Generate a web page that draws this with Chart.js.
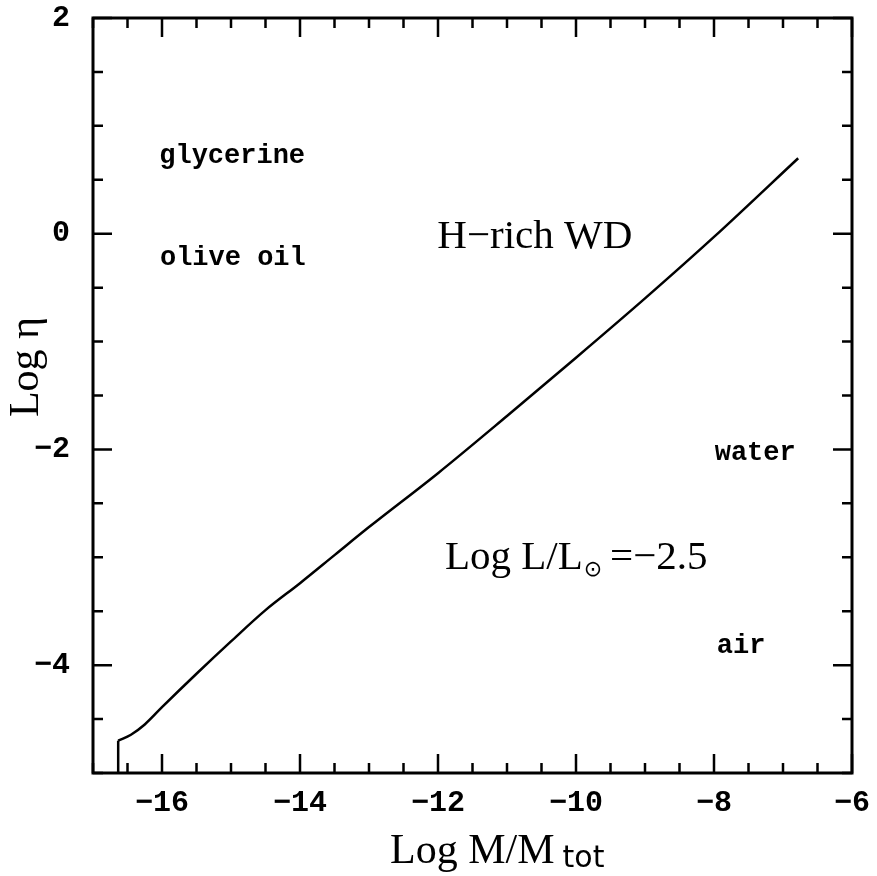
<!DOCTYPE html>
<html>
<head>
<meta charset="utf-8">
<script src="https://cdn.jsdelivr.net/npm/chart.js@4.4.1/dist/chart.umd.min.js"></script>
<style>
  html, body { margin: 0; padding: 0; background: #fff; }
  #wrap { width: 877px; height: 876px; }
</style>
</head>
<body>
<div id="wrap"><canvas id="grafik" width="877" height="876"></canvas></div>
<script>
// -------- DATA --------
const logM = [-16.635, -16.45, -16.25, -16.0, -15.5, -15.0, -14.5, -14.0, -13.5, -13.0, -12.0, -11.0, -10.0, -9.0, -8.0, -6.78];
const logEta = [-4.70, -4.645, -4.55, -4.39, -4.08, -3.78, -3.49, -3.24, -2.98, -2.72, -2.22, -1.69, -1.15, -0.60, -0.03, 0.70];

// garis tegak di ujung kiri kurva
const stepM = [-16.635, -16.635];
const stepEta = [-5.0, -4.70];

const majorX = [-16, -14, -12, -10, -8, -6];
const majorY = [2, 0, -2, -4];

// label teks di dalam plot (posisi dalam koordinat data)
const catatan = [
    { teks: "glycerine", x: -16.04, y: 0.656 },
    { teks: "olive oil", x: -16.03, y: -0.29 },
    { teks: "water", x: -7.99, y: -2.10 },
    { teks: "air", x: -7.96, y: -3.89 }
];

const isMajor = (v, list) => list.some(m => Math.abs(v - m) < 1e-6);
const minus = v => String(v).replace("-", "\u2212");

// -------- PLUGIN: bingkai, tick ke dalam, teks --------
const bingkai = {
    id: "bingkai",
    afterDatasetsDraw(chart) {
        const { ctx, chartArea: a, scales: { x, y } } = chart;
        ctx.save();
        ctx.strokeStyle = "#000";
        ctx.lineWidth = 2.5;
        ctx.beginPath();
        x.ticks.forEach(t => {
            const px = x.getPixelForValue(t.value);
            const len = isMajor(t.value, majorX) ? 19 : 10;
            ctx.moveTo(px, a.bottom); ctx.lineTo(px, a.bottom - len);
            ctx.moveTo(px, a.top); ctx.lineTo(px, a.top + len);
        });
        y.ticks.forEach(t => {
            const py = y.getPixelForValue(t.value);
            const len = isMajor(t.value, majorY) ? 19 : 10;
            ctx.moveTo(a.left, py); ctx.lineTo(a.left + len, py);
            ctx.moveTo(a.right, py); ctx.lineTo(a.right - len, py);
        });
        ctx.stroke();
        ctx.lineWidth = 3;
        ctx.strokeRect(a.left, a.top, a.right - a.left, a.bottom - a.top);

        ctx.fillStyle = "#000";
        ctx.textBaseline = "alphabetic";
        ctx.textAlign = "left";

        // label cairan
        ctx.font = "bold 27px 'Liberation Mono'";
        catatan.forEach(c => {
            ctx.fillText(c.teks, x.getPixelForValue(c.x), y.getPixelForValue(c.y));
        });

        // H-rich WD
        ctx.font = "41px 'Liberation Serif'";
        ctx.fillText("H\u2212rich WD", x.getPixelForValue(-12.01), y.getPixelForValue(-0.13));

        // Log L/L_sun = -2.5
        let px = x.getPixelForValue(-11.9);
        const py = y.getPixelForValue(-3.11);
        ctx.font = "41px 'Liberation Serif'";
        ctx.fillText("Log L/L", px, py);
        px += ctx.measureText("Log L/L").width + 1;
        ctx.font = "22px 'DejaVu Sans'";
        ctx.fillText("\u2299", px, py + 7);
        px += ctx.measureText("\u2299").width + 8;
        ctx.font = "41px 'Liberation Serif'";
        ctx.fillText("=\u22122.5", px, py);

        // judul sumbu x
        ctx.font = "42px 'Liberation Serif'";
        ctx.fillText("Log M/M", 390, 863);
        const w = ctx.measureText("Log M/M").width;
        ctx.font = "30px 'DejaVu Sans'";
        ctx.fillText("tot", 390 + w + 8, 867);

        // judul sumbu y
        ctx.translate(38, 367);
        ctx.rotate(-Math.PI / 2);
        ctx.textAlign = "center";
        ctx.font = "42px 'Liberation Serif'";
        ctx.fillText("Log \u03b7", 0, 0);
        ctx.restore();
    }
};

// -------- GRAFIK --------
const titik = logM.map((m, i) => ({ x: m, y: logEta[i] }));
const tegak = stepM.map((m, i) => ({ x: m, y: stepEta[i] }));

new Chart(document.getElementById("grafik"), {
    type: "line",
    data: {
        datasets: [{
            data: titik,
            borderColor: "#000",
            borderWidth: 2.5,
            pointRadius: 0,
            cubicInterpolationMode: "monotone",
            fill: false
        }, {
            data: tegak,
            borderColor: "#000",
            borderWidth: 2.5,
            pointRadius: 0,
            tension: 0,
            fill: false
        }]
    },
    options: {
        responsive: false,
        animation: false,
        devicePixelRatio: 1,
        layout: { padding: { top: 18, right: 25, left: 0, bottom: 0 } },
        plugins: { legend: { display: false }, tooltip: { enabled: false } },
        scales: {
            x: {
                type: "linear",
                min: -17, max: -6,
                grid: { display: false, drawTicks: false },
                border: { display: false },
                afterFit: s => {
                    s.height = 103;
                    s.paddingLeft = 0; s.paddingRight = 0;
                },
                ticks: {
                    stepSize: 0.5,
                    autoSkip: false,
                    maxRotation: 0,
                    padding: 12,
                    color: "#000",
                    font: { family: "'Liberation Mono'", size: 30, weight: "bold" },
                    callback: v => isMajor(v, majorX) ? minus(v) : ""
                }
            },
            y: {
                type: "linear",
                min: -5, max: 2,
                grid: { display: false, drawTicks: false },
                border: { display: false },
                afterFit: s => {
                    s.width = 93;
                    s.paddingTop = 0; s.paddingBottom = 0;
                },
                ticks: {
                    stepSize: 0.5,
                    autoSkip: false,
                    padding: 23,
                    color: "#000",
                    font: { family: "'Liberation Mono'", size: 30, weight: "bold" },
                    callback: v => isMajor(v, majorY) ? minus(v) : ""
                }
            }
        }
    },
    plugins: [bingkai]
});
</script>
</body>
</html>
